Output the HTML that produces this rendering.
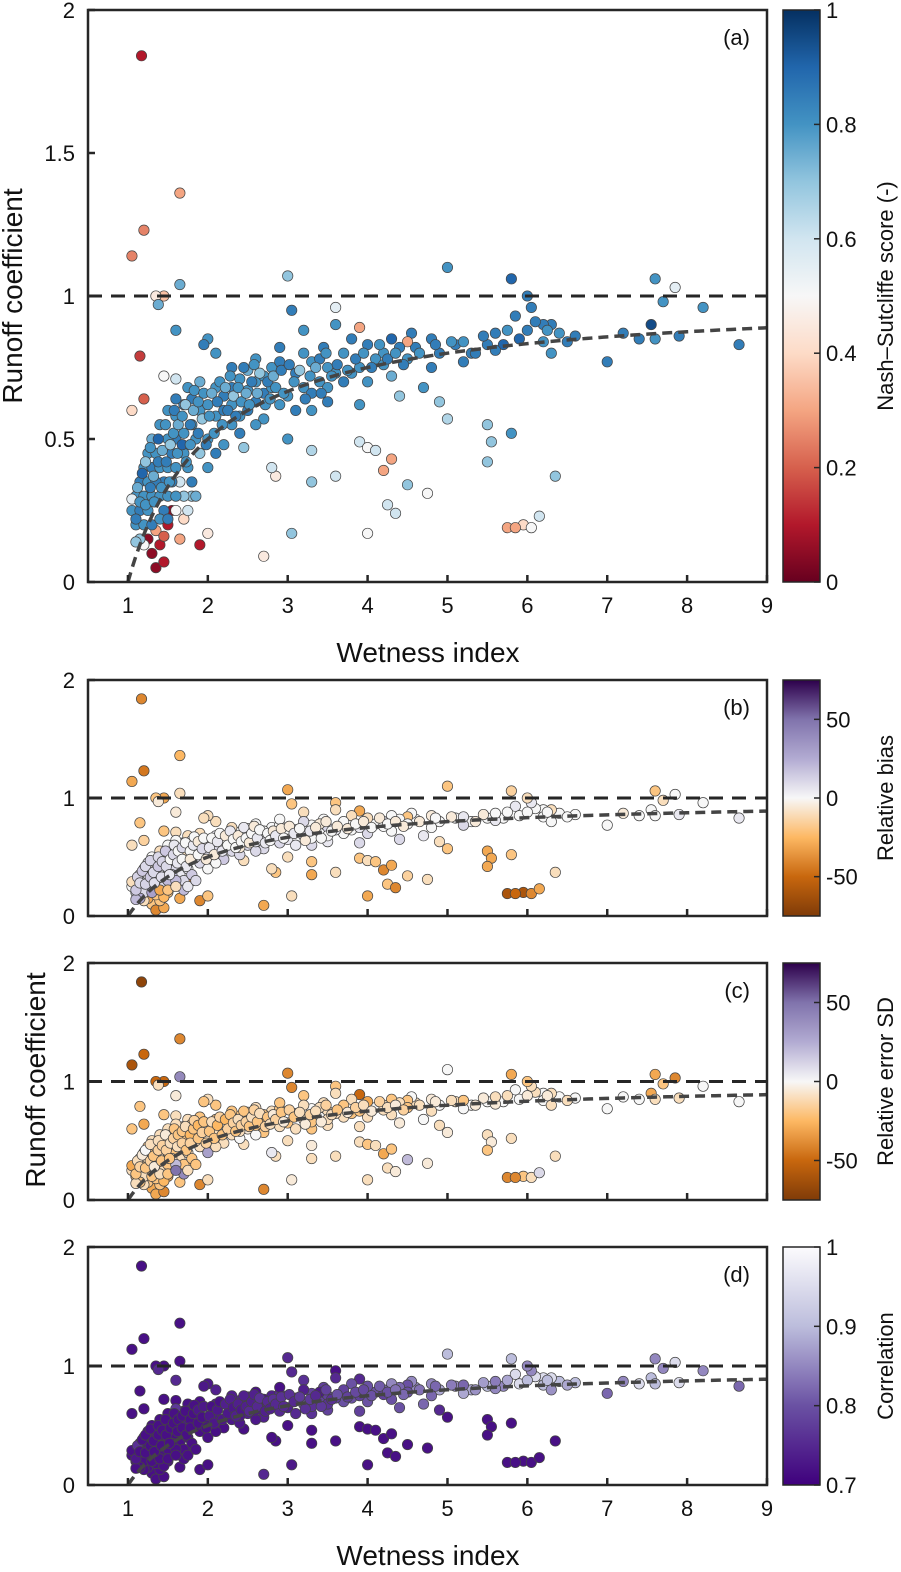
<!DOCTYPE html>
<html><head><meta charset="utf-8"><style>
body{margin:0;background:#fff;width:901px;height:1567px;overflow:hidden}
svg text{font-family:"Liberation Sans",sans-serif;fill:#111}
</style></head><body>
<svg id="chart" width="901" height="1567" xmlns="http://www.w3.org/2000/svg"></svg>
<script>
const wetnessA=[1.17,1.05,1.2,1.65,1.45,1.35,1.65,1.38,1.15,1.05,1.2,1.6,1.45,1.6,1.3,1.35,1.45,1.25,1.4,1.5,1.55,1.2,1.9,1.65,1.35,1.45,2.0,2.7,1.8,3.05,3.6,2.85,2.8,3.3,3.9,4.0,4.1,4.2,4.3,4.25,4.35,4.5,4.0,4.75,4.9,5.0,5.5,5.55,5.5,5.8,5.75,5.95,6.05,6.15,6.35,5.85,3.0,3.3,2.45,7.0,7.2,7.55,7.6,7.6,7.85,7.9,8.2,7.7,8.65,7.4,6.6,6.4,6.3,6.2,6.1,6.05,6.0,5.8,5.85,5.9,5.7,6.0,6.2,5.5,5.3,5.6,5.2,5.0,5.1,4.9,4.8,4.6,4.55,4.5,4.4,4.3,4.2,4.1,4.0,3.9,3.8,3.6,3.6,3.45,3.7,3.5,3.3,3.1,3.05,3.0,3.2,3.4,3.7,3.8,4.0,4.3,4.7,4.4,3.9,3.5,3.3,2.9,2.7,2.6,2.5,2.4,2.3,2.2,2.1,2.0,1.95,2.8,2.9,3.2,2.7,2.5,2.3,2.1,1.9,1.8,1.7,1.6,1.75,1.9,2.0,2.2,2.4,2.6,1.9,1.7,1.6,1.5,1.4,1.3,1.25,1.2,1.15,1.1,1.05,1.05,1.1,1.15,1.2,1.25,1.3,1.35,1.4,1.45,1.5,1.55,1.6,1.65,1.7,1.75,1.8,1.85,1.3,1.35,1.4,1.45,1.5,1.55,1.6,1.25,1.2,1.15,1.1,1.3,1.4,1.5,1.7,1.6,1.75,1.85,2.0,2.1,2.3,2.5,2.6,2.8,3.0,3.1,3.3,3.5,3.6,3.9,4.2,4.5,4.8,5.2,5.6,6.3,6.5,2.2,2.0,1.8,2.4,2.7,3.4,2.1,1.6,1.7,1.5,2.9,2.6,2.3,3.2];
const runoffA=[1.84,1.14,1.23,1.36,1.0,1.0,1.04,0.97,0.79,0.6,0.64,0.88,0.72,0.71,0.1,0.05,0.07,0.15,0.13,0.2,0.25,0.13,0.13,0.15,0.18,0.16,0.17,0.09,0.3,0.17,0.37,0.37,0.4,0.35,0.49,0.47,0.46,0.39,0.43,0.27,0.24,0.34,0.17,0.31,0.63,0.57,0.55,0.49,0.42,0.52,0.19,0.2,0.19,0.23,0.37,0.19,0.5,0.46,0.47,0.77,0.87,0.9,1.06,0.85,1.03,0.86,0.96,0.98,0.83,0.85,0.86,0.87,0.9,0.9,0.91,0.96,1.0,1.06,0.93,0.85,0.83,0.88,0.84,0.83,0.8,0.81,0.77,1.1,0.83,0.8,0.85,0.82,0.87,0.84,0.82,0.85,0.8,0.78,0.83,0.89,0.85,0.96,0.9,0.82,0.8,0.75,0.77,0.73,0.95,1.07,0.68,0.7,0.7,0.73,0.7,0.72,0.68,0.65,0.62,0.63,0.6,0.62,0.66,0.7,0.74,0.71,0.75,0.65,0.8,0.85,0.83,0.75,0.77,0.88,0.57,0.6,0.55,0.58,0.6,0.55,0.62,0.58,0.68,0.7,0.5,0.48,0.52,0.55,0.45,0.45,0.5,0.5,0.55,0.5,0.45,0.4,0.35,0.3,0.25,0.29,0.2,0.25,0.3,0.35,0.4,0.45,0.4,0.35,0.4,0.45,0.4,0.35,0.3,0.4,0.35,0.5,0.3,0.35,0.3,0.25,0.3,0.35,0.3,0.25,0.2,0.15,0.14,0.2,0.22,0.22,0.22,0.25,0.25,0.3,0.4,0.45,0.62,0.67,0.63,0.68,0.65,0.6,0.66,0.68,0.73,0.75,0.76,0.78,0.75,0.84,0.87,0.8,0.84,0.6,0.62,0.64,0.58,0.72,0.78,0.68,0.64,0.52,0.6,0.82,0.78,0.68,0.8];
const nseA=[0.1,0.25,0.25,0.3,0.35,0.45,0.75,0.75,0.15,0.4,0.2,0.8,0.5,0.6,0.05,0.05,0.1,0.05,0.1,0.1,0.05,0.5,0.1,0.3,0.3,0.2,0.45,0.45,0.7,0.7,0.6,0.45,0.6,0.7,0.6,0.5,0.6,0.3,0.3,0.6,0.6,0.7,0.5,0.5,0.7,0.65,0.7,0.7,0.7,0.8,0.3,0.4,0.5,0.6,0.7,0.3,0.8,0.65,0.7,0.85,0.85,0.95,0.8,0.8,0.55,0.85,0.8,0.8,0.85,0.85,0.85,0.8,0.85,0.85,0.85,0.85,0.85,0.9,0.85,0.9,0.9,0.85,0.8,0.85,0.85,0.85,0.85,0.8,0.85,0.85,0.85,0.85,0.85,0.3,0.85,0.9,0.8,0.8,0.85,0.3,0.85,0.55,0.8,0.85,0.8,0.8,0.8,0.85,0.85,0.7,0.8,0.8,0.85,0.8,0.8,0.75,0.8,0.7,0.8,0.85,0.8,0.8,0.85,0.8,0.75,0.8,0.85,0.85,0.8,0.8,0.85,0.8,0.85,0.8,0.8,0.85,0.8,0.8,0.8,0.8,0.85,0.8,0.8,0.75,0.8,0.8,0.85,0.8,0.7,0.8,0.85,0.8,0.8,0.75,0.8,0.8,0.85,0.8,0.8,0.55,0.8,0.85,0.8,0.8,0.85,0.8,0.8,0.85,0.8,0.85,0.8,0.6,0.7,0.8,0.85,0.8,0.8,0.85,0.8,0.85,0.8,0.85,0.8,0.8,0.8,0.7,0.7,0.85,0.8,0.85,0.4,0.5,0.6,0.75,0.8,0.85,0.8,0.8,0.85,0.8,0.8,0.85,0.85,0.8,0.8,0.8,0.8,0.8,0.85,0.8,0.85,0.8,0.85,0.85,0.8,0.85,0.8,0.8,0.85,0.8,0.85,0.8,0.8,0.85,0.8,0.85];
const biasA=[-40,-30,-45,-25,-30,-20,-10,-5,-20,-10,-15,-5,-20,-10,-20,-40,-30,-30,-20,-20,-30,-10,-40,-30,-20,-25,-20,-30,-40,-10,-10,-20,-10,-30,-20,-10,-20,-40,-30,-20,-40,-15,-30,-10,-10,-20,-30,-30,-30,-20,-60,-60,-40,-30,-10,-50,-10,-20,-10,0,-5,0,-20,0,0,5,0,-10,5,0,0,0,-10,0,0,5,-10,-15,5,0,0,0,0,0,0,5,10,-20,0,0,-5,0,0,-20,0,0,10,0,-10,-30,-10,-20,-10,0,0,10,0,5,-20,-30,10,0,0,0,10,0,5,10,10,5,10,10,5,0,0,0,-10,0,-10,-10,-10,0,0,-10,10,10,10,10,0,0,0,-10,-10,-10,10,15,10,10,10,10,0,0,-10,0,5,0,0,-5,0,-10,10,10,10,0,-5,10,10,5,0,15,10,5,10,5,15,10,15,20,15,10,20,20,20,20,10,25,20,30,-30,-20,20,-10,5,10,0,0,5,5,5,10,5,5,0,0,5,5,0,0,0,5,0,0,0,0,5,0,-5,0,-5,5,0,-10,0,0,0];
const errSDA=[-70,-60,-50,-40,-50,-50,40,-10,-20,-20,-30,-5,-20,-10,-30,-30,-40,-20,-20,-30,-20,-10,-40,-20,-20,-25,-10,-40,-20,-5,-10,-10,5,-10,-10,-20,-10,-30,-20,-10,-5,20,-10,-5,-10,-5,-10,-5,-20,-10,-40,-20,-10,10,-10,-40,-10,-5,-10,0,0,-30,-30,-10,-40,-10,0,-20,0,0,0,0,-10,0,-10,-10,-20,-30,0,0,0,-5,0,0,0,-5,0,0,-10,0,-5,-10,0,-20,-10,-20,-10,0,-30,-50,-10,-20,-10,-10,-20,-10,0,-10,-40,-40,-10,0,-10,-20,-10,-10,0,-5,-10,-10,-20,-10,-20,-20,-10,-20,-20,-10,-20,-10,-20,-10,-20,-20,-20,-5,-10,-10,-10,-20,-10,-20,-10,-20,-10,-10,0,0,-10,-10,-10,-20,-10,-10,-20,-20,-10,-20,-10,-30,-20,-10,-20,-10,-20,-10,-20,-10,-20,-10,-20,-10,-20,-10,-20,-10,-20,-10,-20,-10,-20,-10,20,-20,-10,-20,-10,-20,-10,-20,40,50,-10,-20,30,-10,-20,-10,-20,-10,-20,-10,-20,-10,-10,-20,-10,-20,-10,-20,-10,-10,-10,0,0,-20,-10,-20,-10,-20,-10,-20,-10,-20,-10,-20,-10,-20,-10];
const corrA=[0.72,0.72,0.72,0.72,0.72,0.72,0.72,0.75,0.72,0.72,0.72,0.75,0.72,0.72,0.72,0.72,0.72,0.72,0.72,0.72,0.72,0.72,0.72,0.72,0.72,0.72,0.72,0.75,0.72,0.73,0.72,0.72,0.72,0.72,0.72,0.72,0.72,0.72,0.72,0.72,0.72,0.72,0.72,0.72,0.75,0.72,0.72,0.72,0.72,0.72,0.72,0.72,0.72,0.72,0.72,0.72,0.72,0.72,0.72,0.82,0.85,0.9,0.85,0.9,0.95,0.95,0.85,0.85,0.82,0.95,0.9,0.9,0.95,0.95,0.95,0.85,0.85,0.9,0.95,0.95,0.85,0.9,0.9,0.9,0.88,0.85,0.88,0.9,0.85,0.88,0.85,0.85,0.85,0.8,0.82,0.85,0.82,0.8,0.8,0.75,0.8,0.72,0.75,0.78,0.78,0.78,0.78,0.76,0.75,0.75,0.8,0.78,0.8,0.8,0.8,0.8,0.82,0.8,0.78,0.78,0.76,0.75,0.74,0.75,0.74,0.74,0.74,0.74,0.74,0.73,0.73,0.74,0.75,0.76,0.74,0.74,0.73,0.73,0.72,0.72,0.72,0.72,0.72,0.72,0.72,0.72,0.73,0.73,0.72,0.72,0.72,0.72,0.72,0.72,0.72,0.72,0.72,0.72,0.72,0.72,0.72,0.72,0.72,0.72,0.72,0.72,0.72,0.72,0.72,0.72,0.72,0.72,0.72,0.72,0.72,0.72,0.72,0.72,0.72,0.72,0.72,0.72,0.72,0.72,0.72,0.72,0.72,0.72,0.72,0.72,0.72,0.72,0.72,0.72,0.72,0.72,0.72,0.72,0.73,0.74,0.74,0.75,0.76,0.76,0.78,0.78,0.78,0.8,0.82,0.82,0.84,0.86,0.88,0.9,0.92,0.73,0.73,0.72,0.73,0.74,0.77,0.73,0.72,0.72,0.72,0.75,0.74,0.73,0.76];
const wetnessB=[1.1,1.12,1.15,1.18,1.22,1.22,1.28,1.28,1.32,1.33,1.38,1.38,1.42,1.43,1.47,1.48,1.52,1.53,1.57,1.58,1.62,1.63,1.68,1.68,1.72,1.73,1.78,1.78,1.82,1.83,1.88,1.88,1.93,1.95,1.98,2.02,2.05,2.08,2.12,2.15,2.18,2.22,2.25,2.28,2.32,2.35,2.38,2.42,2.45,2.48,2.52,2.55,2.58,2.62,2.65,2.72,2.75,2.78,2.82,2.85,2.92,2.95,3.02,3.08,3.15,3.22,3.28,3.35,3.42,3.48,3.55,3.62,3.75,3.85,3.95,4.05,4.15,4.25,4.35,4.45,4.65,4.85,5.05,5.35,5.45,5.75,6.25];
const runoffB=[0.22,0.33,0.28,0.38,0.27,0.42,0.33,0.47,0.37,0.28,0.42,0.5,0.33,0.46,0.55,0.42,0.35,0.48,0.52,0.6,0.45,0.55,0.48,0.58,0.62,0.42,0.55,0.48,0.6,0.67,0.52,0.63,0.57,0.66,0.48,0.58,0.66,0.52,0.63,0.7,0.55,0.68,0.6,0.72,0.65,0.58,0.68,0.63,0.75,0.66,0.62,0.7,0.76,0.66,0.73,0.62,0.7,0.64,0.72,0.68,0.74,0.66,0.76,0.7,0.74,0.64,0.72,0.75,0.66,0.8,0.72,0.76,0.74,0.78,0.8,0.75,0.83,0.78,0.8,0.76,0.8,0.83,0.84,0.8,0.86,0.88,0.88];
const nseB=[0.8,0.85,0.75,0.8,0.9,0.8,0.7,0.85,0.8,0.75,0.8,0.85,0.9,0.8,0.75,0.8,0.85,0.8,0.7,0.8,0.85,0.8,0.75,0.9,0.8,0.7,0.8,0.85,0.8,0.75,0.8,0.85,0.8,0.7,0.8,0.85,0.8,0.75,0.8,0.85,0.8,0.8,0.75,0.85,0.8,0.7,0.85,0.8,0.8,0.85,0.75,0.8,0.85,0.8,0.75,0.7,0.8,0.85,0.8,0.75,0.8,0.85,0.8,0.85,0.8,0.7,0.85,0.8,0.75,0.85,0.8,0.8,0.85,0.8,0.85,0.8,0.85,0.8,0.85,0.8,0.85,0.8,0.85,0.8,0.85,0.85,0.8];
const biasB=[15,10,15,12,10,15,12,10,15,12,10,8,15,10,8,12,15,10,5,0,10,5,5,0,0,10,0,5,0,-5,5,0,0,-5,10,0,-5,5,0,-5,5,0,5,-5,0,5,0,0,-5,0,5,0,-5,0,-5,5,0,5,0,0,-5,5,-5,0,-5,5,0,-5,5,-5,0,-5,0,-5,-5,0,-5,0,-5,0,-5,-5,-5,0,-5,-5,-5];
const errSDB=[-15,-5,-20,0,-15,-10,-20,-5,-15,-10,-20,-15,-5,-15,-20,-10,-15,-20,-10,-20,-15,-20,-10,-20,-25,-15,-20,-15,-20,-25,-15,-20,-15,-20,-10,-20,-25,-15,-20,-25,-15,-20,-15,-20,-10,-15,-20,-15,-20,-10,-15,-20,-10,-15,-20,-10,-5,-15,-20,-5,-15,-20,-10,-5,-15,-10,-5,-15,-10,-20,-5,-15,-10,-5,-15,-10,-5,-15,-10,-5,-10,-5,-5,-10,-5,-5,0];
const corrB=[0.72,0.72,0.72,0.72,0.72,0.72,0.72,0.72,0.72,0.72,0.72,0.72,0.72,0.72,0.72,0.72,0.72,0.72,0.72,0.72,0.72,0.72,0.72,0.72,0.72,0.72,0.72,0.72,0.72,0.73,0.72,0.73,0.72,0.73,0.72,0.73,0.73,0.72,0.73,0.74,0.73,0.74,0.73,0.74,0.74,0.73,0.74,0.74,0.75,0.74,0.74,0.75,0.76,0.74,0.75,0.74,0.76,0.75,0.76,0.75,0.76,0.75,0.77,0.76,0.77,0.75,0.77,0.78,0.76,0.8,0.78,0.79,0.79,0.8,0.81,0.8,0.83,0.82,0.83,0.82,0.84,0.86,0.87,0.88,0.9,0.92,0.93];
const xTicks=[1,2,3,4,5,6,7,8,9];
const wetness=wetnessA.concat(wetnessB),runoff=runoffA.concat(runoffB);
const nse=nseA.concat(nseB),bias=biasA.concat(biasB),errSD=errSDA.concat(errSDB),corr=corrA.concat(corrB);

const NS='http://www.w3.org/2000/svg';
const svg=document.getElementById('chart');
function mk(t,a,p){const e=document.createElementNS(NS,t);for(const k in a)e.setAttribute(k,a[k]);(p||svg).appendChild(e);return e;}
function hex(h){return[1,3,5].map(i=>parseInt(h.substr(i,2),16));}
function cmap(stops){return v=>{v=Math.max(stops[0][0],Math.min(stops[stops.length-1][0],v));for(let i=1;i<stops.length;i++){if(v<=stops[i][0]){const t=(v-stops[i-1][0])/(stops[i][0]-stops[i-1][0]);const a=hex(stops[i-1][1]),b=hex(stops[i][1]);return'rgb('+a.map((c,j)=>Math.round(c+(b[j]-c)*t)).join(',')+')';}}return stops[stops.length-1][1];};}
const rdbu=[[0,'#67001f'],[0.1,'#b2182b'],[0.2,'#d6604d'],[0.3,'#f4a582'],[0.4,'#fddbc7'],[0.5,'#f7f7f7'],[0.6,'#d1e5f0'],[0.7,'#92c5de'],[0.8,'#4393c3'],[0.9,'#2166ac'],[1,'#053061']];
const puor=[[-75,'#7f3b08'],[-50,'#c8670e'],[-25,'#fdb863'],[0,'#f7f7f7'],[25,'#b2abd2'],[50,'#8073ac'],[75,'#2d004b']];
const purp=[[0.7,'#3f007d'],[0.8,'#6a51a3'],[0.9,'#bcbddc'],[1,'#fcfbfd']];
const L=88,R=767,CB0=783,CB1=820;
const panels=[
 {top:10,bot:582,vals:nse,def:0.8,stops:rdbu,min:0,max:1,ticks:[0,0.2,0.4,0.6,0.8,1],lab:'Nash–Sutcliffe score (-)',tag:'(a)',yt:[0,0.5,1,1.5,2],ytl:['0','0.5','1','1.5','2'],name:'panel-a-nse'},
 {top:680,bot:916,vals:bias,def:0,stops:puor,min:-75,max:75,ticks:[-50,0,50],lab:'Relative bias',tag:'(b)',yt:[0,1,2],ytl:['0','1','2'],name:'panel-b-bias'},
 {top:963,bot:1200,vals:errSD,def:-10,stops:puor,min:-75,max:75,ticks:[-50,0,50],lab:'Relative error SD',tag:'(c)',yt:[0,1,2],ytl:['0','1','2'],name:'panel-c-error-sd'},
 {top:1247,bot:1485,vals:corr,def:0.75,stops:purp,min:0.7,max:1,ticks:[0.7,0.8,0.9,1],lab:'Correlation',tag:'(d)',yt:[0,1,2],ytl:['0','1','2'],name:'panel-d-correlation'}];
const xs=v=>L+(v-0.5)/8.5*(R-L);
panels.forEach((p,pi)=>{
 const g=mk('g',{});
 
 
 const ys=v=>p.bot-v/2*(p.bot-p.top);
 const cm=cmap(p.stops);
 const clip=mk('clipPath',{id:'c'+pi},g);mk('rect',{x:L,y:p.top,width:R-L,height:p.bot-p.top},clip);
 const pts=mk('g',{'clip-path':'url(#c'+pi+')'},g);
 wetness.forEach((x,i)=>{const v=(typeof p.vals[i]==='number')?p.vals[i]:p.def;
  const c=mk('circle',{cx:xs(x),cy:ys(runoff[i]),r:5.2,fill:cm(v),stroke:'#444','stroke-width':0.7},pts);
  
  });
 let d='';for(let x=1.0;x<=9.05;x+=0.05){d+=(d?'L':'M')+xs(x)+','+ys(1-1/x);}
 const cv=mk('path',{d:d,fill:'none',stroke:'#444','stroke-width':3.5,'stroke-dasharray':'10,6'},pts);
 
 
 const hl=mk('line',{x1:L,x2:R,y1:ys(1),y2:ys(1),stroke:'#262626','stroke-width':3,'stroke-dasharray':'14,9'},g);
 
 
 const fr=mk('rect',{x:L,y:p.top,width:R-L,height:p.bot-p.top,fill:'none',stroke:'#262626','stroke-width':2.5},g);
 
 
 xTicks.forEach(t=>{mk('line',{x1:xs(t),x2:xs(t),y1:p.bot,y2:p.bot-7,stroke:'#262626','stroke-width':2.5},g);
  if(pi==0||pi==3){const tx=mk('text',{x:xs(t),y:p.bot+31,'font-size':22,'text-anchor':'middle'},g);tx.textContent=t;
   
   }});
 p.yt.forEach((t,k)=>{mk('line',{x1:L,x2:L+7,y1:ys(t),y2:ys(t),stroke:'#262626','stroke-width':2.5},g);
  const tx=mk('text',{x:L-13,y:ys(t)+8,'font-size':22,'text-anchor':'end'},g);tx.textContent=p.ytl[k];
  
  });
 const tg=mk('text',{x:750,y:p.top+35,'font-size':22,'text-anchor':'end'},g);tg.textContent=p.tag;
 
 
 const gr=mk('linearGradient',{id:'g'+pi,x1:0,y1:1,x2:0,y2:0},g);
 p.stops.forEach(s=>mk('stop',{offset:(s[0]-p.min)/(p.max-p.min),'stop-color':s[1]},gr));
 const cb=mk('rect',{x:CB0,y:p.top,width:CB1-CB0,height:p.bot-p.top,fill:'url(#g'+pi+')',stroke:'#262626','stroke-width':1.5},g);
 
 
 const cy=v=>p.bot-(v-p.min)/(p.max-p.min)*(p.bot-p.top);
 p.ticks.forEach(t=>{mk('line',{x1:CB1-6,x2:CB1,y1:cy(t),y2:cy(t),stroke:'#262626','stroke-width':1.5},g);
  const tx=mk('text',{x:826,y:cy(t)+8,'font-size':22},g);tx.textContent=t;
  
  });
 const mid=(p.top+p.bot)/2;
 const cl=mk('text',{x:893,y:mid,'font-size':22,'text-anchor':'middle',transform:'rotate(-90 893 '+mid+')'},g);cl.textContent=p.lab;
 
 
});
function label(txt,x,y,rot,name){const t=mk('text',{x:x,y:y,'font-size':28,'text-anchor':'middle'});if(rot)t.setAttribute('transform','rotate(-90 '+x+' '+y+')');t.textContent=txt;
 
 }
label('Wetness index',428,662,false,'x-axis-title-a');
label('Wetness index',428,1565,false,'x-axis-title-d');
label('Runoff coefficient',22,296,true,'y-axis-title-a');
label('Runoff coefficient',45,1080,true,'y-axis-title-bc');
</script>
</body></html>
